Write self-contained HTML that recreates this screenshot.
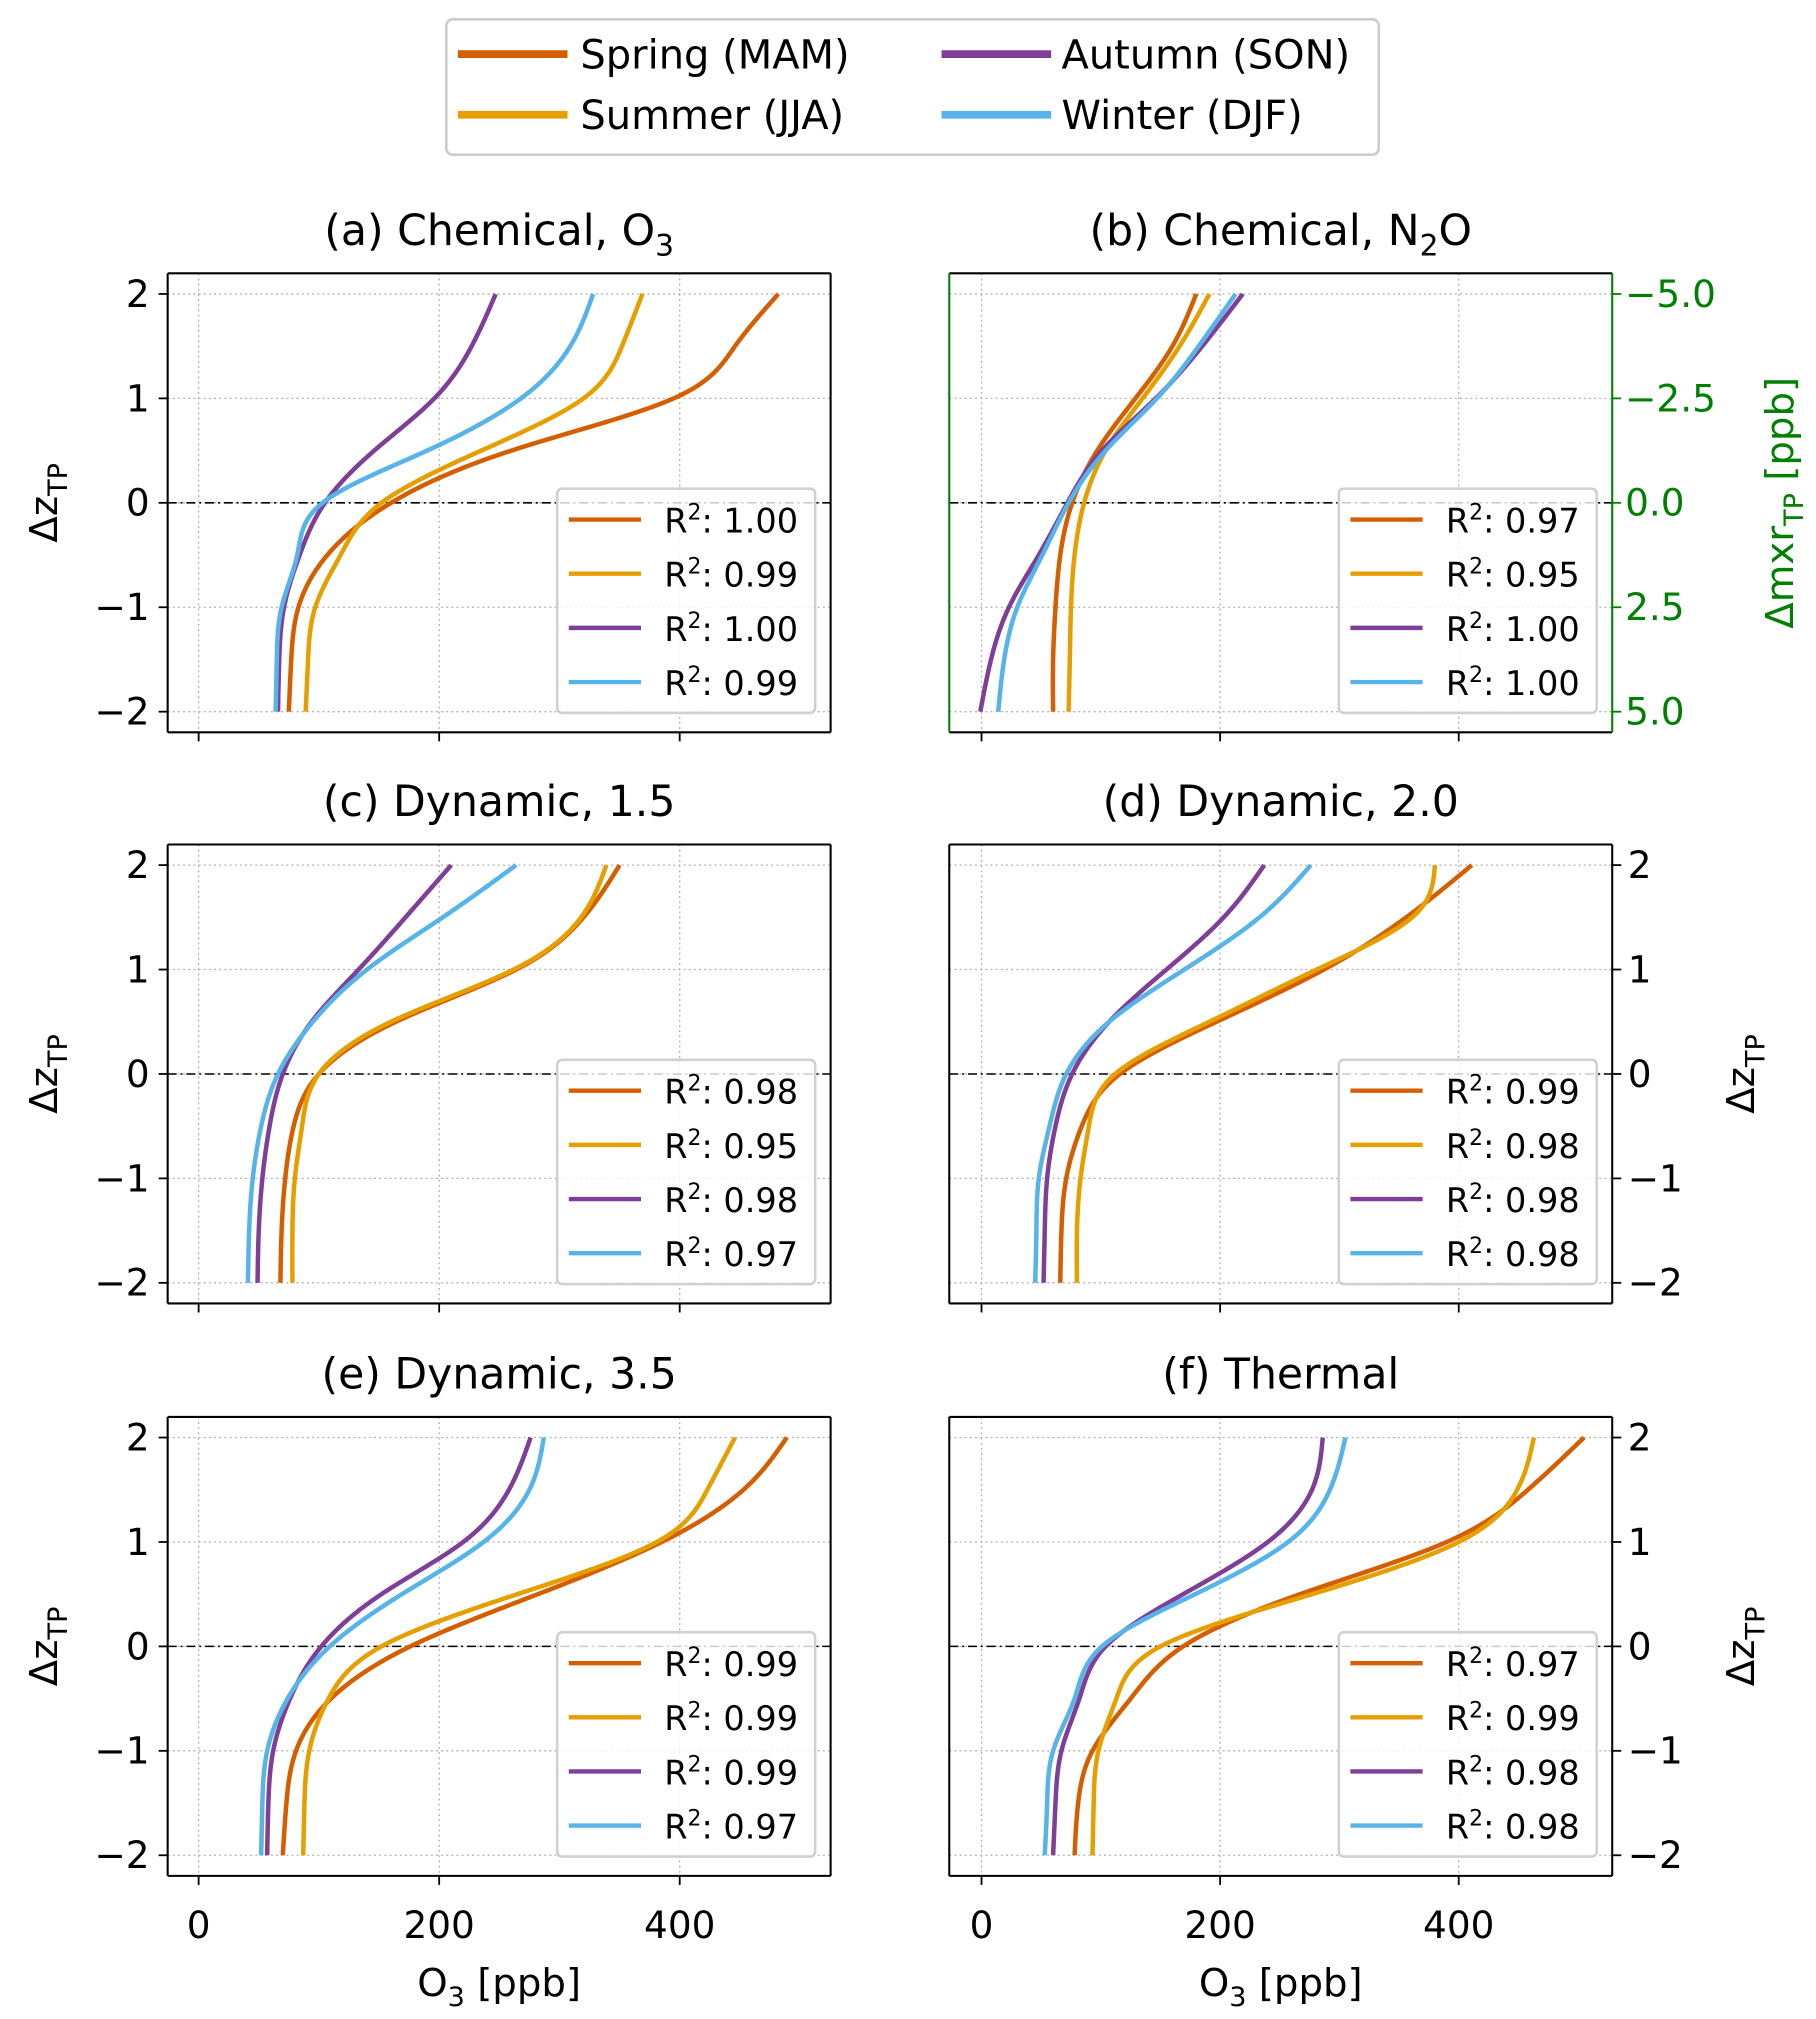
<!DOCTYPE html>
<html><head><meta charset="utf-8"><style>
html,body{margin:0;padding:0;background:#fff}
svg{display:block}
text{font-family:"DejaVu Sans","Liberation Sans",sans-serif}
</style></head><body>
<svg id="fig" width="1816" height="2019" viewBox="0 0 1408 1566" preserveAspectRatio="none" xmlns="http://www.w3.org/2000/svg">
<g>
<rect x="346" y="15" width="723" height="105" rx="5" fill="#fff" stroke="#cccccc" stroke-width="2"/>
<line x1="355" y1="42" x2="440" y2="42" stroke="#D55E00" stroke-width="6"/>
<text x="450" y="53" font-size="31">Spring (MAM)</text>
<line x1="355" y1="89" x2="440" y2="89" stroke="#E69F00" stroke-width="6"/>
<text x="450" y="100" font-size="31">Summer (JJA)</text>
<line x1="730" y1="42" x2="815" y2="42" stroke="#7F3F98" stroke-width="6"/>
<text x="823" y="53" font-size="31">Autumn (SON)</text>
<line x1="730" y1="89" x2="815" y2="89" stroke="#56B4E9" stroke-width="6"/>
<text x="823" y="100" font-size="31">Winter (DJF)</text>
</g>
</svg>
<script>
const levels=[-2,-1.5,-1,-0.5,0,0.5,1,1.5,2];
const colors=['#D55E00','#E69F00','#7F3F98','#56B4E9'];
const xTicks=[0,200,400];
const yTicks=[-2,-1,0,1,2];
const mxrTicks=['5.0','2.5','0.0','\u22122.5','\u22125.0'];
// panel a
const aSpring=[75,77,83,107,160,260,395,446,482];
const aSummer=[89,91,97,118,152,235,320,352,369];
const aAutumn=[66,67,71,84,105,146,196,227,247];
const aWinter=[64,65,69,82,103,190,268,309,328];
const aR2=['1.00','0.99','1.00','0.99'];
// panel b
const bSpring=[60,60,62,66,76,97,129,160,180];
const bSummer=[73,74,75,78,86,104,135,166,191];
const bAutumn=[-1,8,23,48,72,101,146,185,219];
const bWinter=[14,19,30,51,73,104,147,182,213];
const bR2=['0.97','0.95','1.00','1.00'];
// panel c
const cSpring=[68,69,72,79,100,164,264,320,350];
const cSummer=[78,78,80,86,100,160,262,318,339];
const cAutumn=[49,50,53,59,70,94,133,172,210];
const cWinter=[41,42,45,52,66,95,140,203,264];
const cR2=['0.98','0.95','0.98','0.97'];
// panel d
const dSpring=[66,67,71,84,116,197,287,356,411];
const dSummer=[80,80,83,90,112,191,281,361,380];
const dAutumn=[52,53,55,62,76,107,155,203,237];
const dWinter=[45,46,48,57,71,107,170,233,276];
const dR2=['0.99','0.98','0.98','0.98'];
// panel e
const eSpring=[70,73,81,110,176,282,385,453,489];
const eSummer=[87,88,92,108,152,265,381,423,446];
const eAutumn=[57,58,62,76,102,152,220,258,276];
const eWinter=[52,53,57,74,109,169,237,275,287];
const eR2=['0.99','0.99','0.99','0.97'];
// panel f
const fSpring=[78,81,93,125,169,267,390,458,505];
const fSummer=[93,94,98,113,150,277,400,449,463];
const fAutumn=[60,62,67,82,104,169,240,277,286];
const fWinter=[53,55,60,78,101,179,257,292,305];
const fR2=['0.97','0.99','0.98','0.98'];

const NS='http://www.w3.org/2000/svg';
const svg=document.getElementById('fig');
function mk(tag,attrs,parent,txt){const e=document.createElementNS(NS,tag);for(const k in attrs)e.setAttribute(k,attrs[k]);if(txt!==undefined)e.textContent=txt;(parent||svg).appendChild(e);return e;}

const panels=[
 {id:'a',col:0,row:0,title:['(a) Chemical, O','3',''],series:[aSpring,aSummer,aAutumn,aWinter],r2:aR2},
 {id:'b',col:1,row:0,title:['(b) Chemical, N','2','O'],series:[bSpring,bSummer,bAutumn,bWinter],r2:bR2},
 {id:'c',col:0,row:1,title:['(c) Dynamic, 1.5','',''],series:[cSpring,cSummer,cAutumn,cWinter],r2:cR2},
 {id:'d',col:1,row:1,title:['(d) Dynamic, 2.0','',''],series:[dSpring,dSummer,dAutumn,dWinter],r2:dR2},
 {id:'e',col:0,row:2,title:['(e) Dynamic, 3.5','',''],series:[eSpring,eSummer,eAutumn,eWinter],r2:eR2},
 {id:'f',col:1,row:2,title:['(f) Thermal','',''],series:[fSpring,fSummer,fAutumn,fWinter],r2:fR2},
];
const colL=[130,736], colX0=[154,761], colK=[0.9325,0.925];
const rowT=[212,655,1099], W=514, H=356;

// natural cubic spline of x as function of level (uniform spacing)
function interp(vals){
  const n=vals.length, h=0.5;
  const a=new Array(n).fill(0), b=new Array(n).fill(0), c=new Array(n).fill(0), r=new Array(n).fill(0);
  b[0]=1;b[n-1]=1;
  for(let i=1;i<n-1;i++){a[i]=h;b[i]=4*h;c[i]=h;r[i]=6*(vals[i+1]-2*vals[i]+vals[i-1])/h;}
  for(let i=1;i<n;i++){const w=a[i]/b[i-1];b[i]-=w*c[i-1];r[i]-=w*r[i-1];}
  const M=new Array(n).fill(0);
  M[n-1]=r[n-1]/b[n-1];
  for(let i=n-2;i>=0;i--)M[i]=(r[i]-c[i]*M[i+1])/b[i];
  const out=[];
  for(let i=0;i<n-1;i++){
    for(let k=0;k<24;k++){
      const t=k/24*h, s=h-t;
      const v=M[i]*s*s*s/(6*h)+M[i+1]*t*t*t/(6*h)+(vals[i]/h-M[i]*h/6)*s+(vals[i+1]/h-M[i+1]*h/6)*t;
      out.push([v,levels[i]+t]);
    }
  }
  out.push([vals[n-1],levels[n-1]]);
  return out;
}

panels.forEach(p=>{
  const L=colL[p.col], T=rowT[p.row], R=L+W, B=T+H;
  const xs=v=>colX0[p.col]+v*colK[p.col];
  const ys=v=>T+16+(2-v)*81;
  const g=mk('g',{});
  
  
  const t=mk('text',{x:L+W/2,y:T-22,'font-size':33,'text-anchor':'middle'},g);
  
  
  mk('tspan',{},t,p.title[0]);
  if(p.title[1]){mk('tspan',{'font-size':23,dy:8},t,p.title[1]);mk('tspan',{dy:-8},t,p.title[2]);}
  xTicks.forEach(v=>mk('line',{x1:xs(v),x2:xs(v),y1:T,y2:B,stroke:'#b0b0b0','stroke-width':1,'stroke-dasharray':'1.5,2.5'},g));
  yTicks.forEach(v=>mk('line',{x1:L,x2:R,y1:ys(v),y2:ys(v),stroke:'#b0b0b0','stroke-width':1,'stroke-dasharray':'1.5,2.5'},g));
  mk('line',{x1:L,x2:R,y1:ys(0),y2:ys(0),stroke:'#000','stroke-width':1.2,'stroke-dasharray':'7,3,1.5,3'},g);
  p.series.forEach((s,i)=>{
    const pts=interp(s).map(q=>xs(q[0]).toFixed(2)+','+ys(q[1]).toFixed(2));
    const path=mk('polyline',{points:pts.join(' '),fill:'none',stroke:colors[i],'stroke-width':3.5,'stroke-linejoin':'round'},g);
    
    
  });
  const lx=L+302, ly=T+167;
  const lg=mk('g',{},g);
  
  
  mk('rect',{x:lx,y:ly,width:200,height:174,rx:4,fill:'#fff','fill-opacity':0.8,stroke:'#d0d0d0','stroke-width':2},lg);
  p.r2.forEach((r,i)=>{
    const yy=ly+24+i*42;
    mk('line',{x1:lx+9,x2:lx+65,y1:yy,y2:yy,stroke:colors[i],'stroke-width':3.4},lg);
    const tx=mk('text',{x:lx+83,y:yy+10,'font-size':26},lg);
    mk('tspan',{},tx,'R');mk('tspan',{'font-size':17,dy:-10},tx,'2');mk('tspan',{dy:10},tx,': '+r);
  });
  const green=p.id==='b';
  mk('line',{x1:L,x2:R,y1:T,y2:T,stroke:'#000','stroke-width':1.6},g);
  mk('line',{x1:L,x2:R,y1:B,y2:B,stroke:'#000','stroke-width':1.6},g);
  mk('line',{x1:L,x2:L,y1:T,y2:B,stroke:green?'#008000':'#000','stroke-width':1.6},g);
  mk('line',{x1:R,x2:R,y1:T,y2:B,stroke:green?'#008000':'#000','stroke-width':1.6},g);
  xTicks.forEach(v=>{
    mk('line',{x1:xs(v),x2:xs(v),y1:B,y2:B+7,stroke:'#000','stroke-width':1.4},g);
    if(p.row===2){const tl=mk('text',{x:xs(v),y:B+48,'font-size':29,'text-anchor':'middle'},g,String(v));
      }
  });
  if(p.row===2){
    const xl=mk('text',{x:L+W/2,y:B+93,'font-size':30,'text-anchor':'middle'},g);
    
    mk('tspan',{},xl,'O');mk('tspan',{'font-size':21,dy:8},xl,'3');mk('tspan',{dy:-8},xl,' [ppb]');
  }
  if(p.col===0){
    yTicks.forEach(v=>{
      mk('line',{x1:L-7,x2:L,y1:ys(v),y2:ys(v),stroke:'#000','stroke-width':1.4},g);
      mk('text',{x:L-14,y:ys(v)+10,'font-size':29,'text-anchor':'end'},g,v<0?'\u2212'+(-v):String(v));
    });
    const yl=mk('text',{transform:'translate(44,'+ys(0)+') rotate(-90)','font-size':30,'text-anchor':'middle'},g);
    
    mk('tspan',{},yl,'\u0394z');mk('tspan',{'font-size':21,dy:8},yl,'TP');
  } else if(p.id==='b'){
    yTicks.forEach((v,i)=>{
      mk('line',{x1:R,x2:R+7,y1:ys(v),y2:ys(v),stroke:'#008000','stroke-width':1.4},g);
      mk('text',{x:R+10,y:ys(v)+10,'font-size':29,fill:'#008000'},g,mxrTicks[i]);
    });
    const yl=mk('text',{transform:'translate(1390,'+ys(0)+') rotate(-90)','font-size':30,'text-anchor':'middle',fill:'#008000'},g);
    
    mk('tspan',{},yl,'\u0394mxr');mk('tspan',{'font-size':21,dy:8},yl,'TP');mk('tspan',{dy:-8},yl,' [ppb]');
  } else {
    yTicks.forEach(v=>{
      mk('line',{x1:R,x2:R+7,y1:ys(v),y2:ys(v),stroke:'#000','stroke-width':1.4},g);
      mk('text',{x:R+12,y:ys(v)+10,'font-size':29},g,v<0?'\u2212'+(-v):String(v));
    });
    const yl=mk('text',{transform:'translate(1360,'+ys(0)+') rotate(-90)','font-size':30,'text-anchor':'middle'},g);
    
    mk('tspan',{},yl,'\u0394z');mk('tspan',{'font-size':21,dy:8},yl,'TP');
  }
});
</script>
</body></html>
